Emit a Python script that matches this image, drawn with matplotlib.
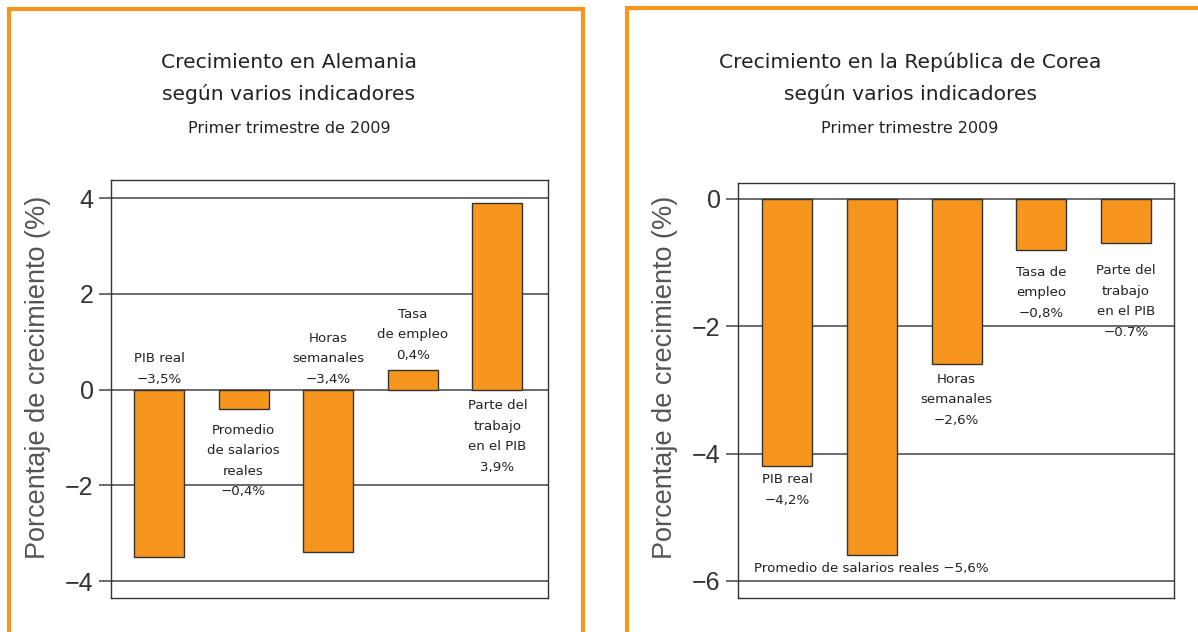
import matplotlib
matplotlib.use('Agg')
import matplotlib.pyplot as plt
from matplotlib.patches import Rectangle

# Datos: primer trimestre de 2009
indicadores = ['PIB real', 'Promedio de salarios reales', 'Horas semanales',
               'Tasa de empleo', 'Parte del trabajo en el PIB']
alemania = [-3.5, -0.4, -3.4, 0.4, 3.9]
corea = [-4.2, -5.6, -2.6, -0.8, -0.7]

alemania_etiquetas = ['PIB real\n\u22123,5%', 'Promedio\nde salarios\nreales\n\u22120,4%',
                      'Horas\nsemanales\n\u22123,4%', 'Tasa\nde empleo\n0,4%',
                      'Parte del\ntrabajo\nen el PIB\n3,9%']
corea_etiquetas = ['PIB real\n\u22124,2%', 'Promedio de salarios reales \u22125,6%',
                   'Horas\nsemanales\n\u22122,6%', 'Tasa de\nempleo\n\u22120,8%',
                   'Parte del\ntrabajo\nen el PIB\n\u22120.7%']
alemania_ticks = [-4, -2, 0, 2, 4]
corea_ticks = [-6, -4, -2, 0]

NARANJA = '#F7961E'
NARROW = ['Liberation Sans Narrow', 'DejaVu Sans Condensed', 'DejaVu Sans']
W, H = 1198, 632

fig = plt.figure(figsize=(W / 100, H / 100), dpi=100)


def px(x, y, w, h):
    return [x / W, 1 - (y + h) / H, w / W, h / H]


def panel(rect, valores, etiquetas, ticks, ylim, xlim, posiciones):
    ax = fig.add_axes(rect)
    x = list(range(len(valores)))
    ax.set_axisbelow(True)
    ax.bar(x, valores, width=0.59, color=NARANJA, edgecolor='#333333', linewidth=1.0, zorder=3)
    ax.set_xlim(*xlim)
    ax.set_ylim(*ylim)
    ax.set_xticks([])
    ax.set_yticks(ticks)
    ax.set_yticklabels(['\u2212%d' % -t if t < 0 else '%d' % t for t in ticks],
                       fontsize=18, color='#333333', family='Liberation Sans')
    ax.tick_params(axis='y', length=9, width=1.1, color='#444444', pad=3.5)
    ax.grid(axis='y', color='#444444', linewidth=1.1)
    for s in ax.spines.values():
        s.set_color('#333333')
        s.set_linewidth(1.0)
    for i, (txt, (y, va)) in enumerate(zip(etiquetas, posiciones)):
        ax.text(i, y, txt, ha='center', va=va, fontsize=9.6, color='#222222',
                family=NARROW, linespacing=1.75, zorder=4)
    ax.set_ylabel('Porcentaje de crecimiento (%)', fontsize=19.5, color='#555555',
                  family='Liberation Sans')
    ax.yaxis.label.set_verticalalignment('center')
    ax.yaxis.set_label_coords(-0.167, (H - 377 - rect[1] * H) / (rect[3] * H))
    return ax


panel(px(111, 180, 437, 418), alemania, alemania_etiquetas, alemania_ticks,
      (-4.355, 4.376), (-0.567, 4.598),
      [(0.08, 'bottom'), (-0.72, 'top'), (0.08, 'bottom'), (0.58, 'bottom'), (-0.2, 'top')])

panel(px(738, 183, 436, 415), corea, corea_etiquetas, corea_ticks,
      (-6.27, 0.25), (-0.578, 4.566),
      [(-4.31, 'top'), (-5.70, 'top'), (-2.73, 'top'), (-1.05, 'top'), (-1.03, 'top')])

# Titulos
for cx, t1, t2 in [(289, 'Crecimiento en Alemania', 'Primer trimestre de 2009'),
                   (910, 'Crecimiento en la República de Corea', 'Primer trimestre 2009')]:
    fig.text(cx / W, 1 - 68 / H, t1, ha='center', va='baseline', fontsize=14.6,
             color='#222222', family=NARROW)
    fig.text(cx / W, 1 - 100 / H, 'según varios indicadores', ha='center', va='baseline',
             fontsize=14.6, color='#222222', family=NARROW)
    fig.text(cx / W, 1 - 133 / H, t2, ha='center', va='baseline', fontsize=11.5,
             color='#222222', family=NARROW)

# Marcos naranjas de cada recuadro
fig.patches.append(Rectangle((9 / W, -0.2), (583 - 9) / W, 1.2 - 8.5 / H, fill=False,
                             edgecolor=NARANJA, linewidth=3, transform=fig.transFigure,
                             figure=fig))
fig.patches.append(Rectangle((627 / W, -0.2), 0.6, 1.2 - 8 / H, fill=False,
                             edgecolor=NARANJA, linewidth=3, transform=fig.transFigure,
                             figure=fig))

fig.savefig('out.png', dpi=100)
